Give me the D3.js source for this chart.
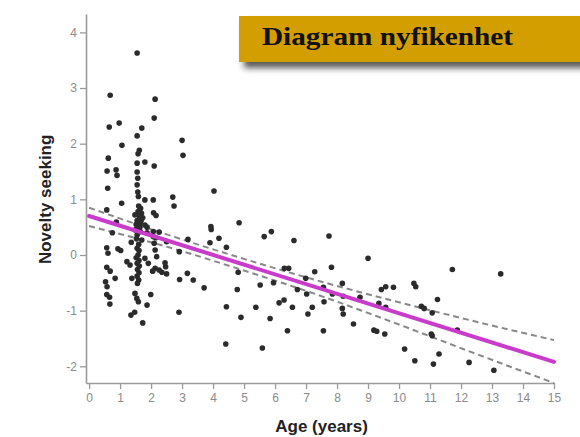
<!DOCTYPE html>
<html>
<head>
<meta charset="utf-8">
<script src="https://cdn.jsdelivr.net/npm/d3@7"></script>
<style>
  html, body { margin: 0; padding: 0; background: #fff; }
  svg { display: block; }
</style>
</head>
<body>
<div id="viz"></div>
<script>
// age (years) and novelty seeking score, one entry per child
const ages = [
  0.68, 0.97, 0.65, 1.06, 0.62, 0.58, 0.87, 0.90, 0.60, 1.05, 0.57, 0.88, 0.75, 0.57, 0.61, 0.93, 1.02, 0.57, 0.68, 0.84,
  0.53, 0.58, 0.57, 0.66, 0.67, 1.22, 1.32, 1.36, 1.38, 1.35, 1.47,
  1.55, 1.70, 1.55, 1.62, 1.58, 1.55, 1.55, 1.57, 1.55, 1.57, 1.59, 1.60, 1.66, 1.58, 1.69, 1.62, 1.73, 1.48, 1.55, 1.65,
  1.55, 1.48, 1.65, 1.55, 1.53, 1.70, 1.60, 1.55, 1.61, 1.58, 1.52, 1.61, 1.55, 1.62, 1.56, 1.61, 1.55, 1.60, 1.56, 1.48,
  1.54, 1.59, 1.73, 1.63, 1.68, 1.52, 1.64,
  1.80, 1.80, 1.80, 1.87, 1.87, 1.80, 1.91, 1.99, 1.87, 2.13, 2.10, 2.10, 2.07, 2.08, 2.16, 2.07, 2.07, 2.26, 2.15, 2.10,
  2.13, 2.18, 2.13, 2.05, 2.26, 2.35, 2.45, 2.50, 2.47, 2.50,
  2.70, 2.74, 3.00, 3.03, 2.91, 2.92, 2.90, 3.19, 3.17, 3.36,
  3.71, 3.93, 3.94, 3.90, 4.03, 4.19, 4.43, 4.84, 4.81, 4.78, 4.43, 4.90, 4.41,
  5.59, 5.38, 5.52, 5.84, 5.65, 5.88, 5.95, 6.13, 6.29, 6.30, 6.44, 6.61, 6.72, 6.56, 6.40, 6.99, 7.02, 7.06,
  7.20, 7.28, 7.56, 7.58, 7.56, 7.74, 7.82, 7.85, 8.17, 8.20, 8.17, 8.20, 8.53, 8.74, 9.00,
  9.19, 9.28, 9.35, 9.43, 9.57, 9.82, 9.57, 9.54, 10.18, 10.48, 10.54, 10.51, 10.72, 10.81, 11.07, 11.04, 11.07, 11.11,
  11.24, 11.29, 11.72, 11.88, 12.26, 13.06, 13.28
];
const novelty = [
  2.87, 2.37, 2.30, 1.97, 1.74, 1.51, 1.53, 1.43, 1.20, 0.93, 0.81, 0.59, 0.40, 0.13, 0.03, 0.11, 0.08, -0.22, -0.29, -0.42,
  -0.48, -0.57, -0.71, -0.76, -0.88, -0.12, -0.18, 0.23, -0.42, -1.08, -1.03,
  3.63, 2.28, 2.14, 1.88, 1.82, 1.65, 1.49, 1.38, 1.26, 1.13, 1.05, 0.88, 0.84, 0.78, 0.75, 0.70, 0.67, 0.72, 0.62, 0.58,
  0.48, 0.45, 0.42, 0.36, 0.29, 0.27, 0.19, 0.12, 0.08, 0.00, -0.05, -0.10, -0.15, -0.20, -0.26, -0.32, -0.38, -0.45, -0.51, -0.69,
  -0.78, -0.84, -1.22, 0.80, 0.62, 0.55, 0.50,
  1.67, 0.99, 0.54, 0.50, 0.40, -0.06, -0.15, -0.71, -0.90, 2.80, 2.46, 1.60, 0.99, 0.76, 0.71, 0.42, 0.33, 0.41, 0.31, 0.21,
  0.09, -0.03, -0.24, -0.29, -0.27, -0.31, -0.14, -0.34, -0.21, 0.24,
  1.04, 0.88, 2.06, 1.79, 0.06, -0.44, -1.03, 0.28, -0.33, -0.45,
  -0.59, 0.51, 0.46, 0.22, 1.15, 0.30, 0.14, 0.58, -0.31, -0.62, -0.93, -1.12, -1.60,
  -1.67, -0.94, -0.54, -1.14, 0.33, 0.42, -0.50, -0.86, -0.81, -0.24, -0.24, 0.26, -0.62, -0.94, -1.36, -0.42, -0.70, -1.06,
  -0.94, -0.30, -0.58, -0.84, -1.36, 0.34, -0.22, -0.70, -0.51, -0.74, -0.96, -1.06, -1.24, -0.76, -0.06,
  -1.35, -1.37, -0.87, -0.62, -0.57, -0.58, -0.94, -1.42, -1.69, -0.51, -0.57, -1.90, -0.92, -0.96, -1.04, -1.42, -1.45, -1.96,
  -0.80, -1.78, -0.26, -1.35, -1.93, -2.07, -0.34
];

// fitted line and 95% band
const fitAges = [0, 15];
const fitValues = [0.70, -1.92];
const bandAges = [0, 2.5, 5, 7.5, 10, 12.5, 15];
const bandUpper = [0.85, 0.37, -0.07, -0.48, -0.85, -1.20, -1.53];
const bandLower = [0.52, 0.15, -0.28, -0.74, -1.25, -1.78, -2.30];

const xTicks = [0, 1, 2, 3, 4, 5, 6, 7, 8, 9, 10, 11, 12, 13, 14, 15];
const yTicks = [-2, -1, 0, 1, 2, 3, 4];

const chartTitle = "Diagram nyfikenhet";
const xLabel = "Age (years)";
const yLabel = "Novelty seeking";

const width = 580;
const height = 437;

const svg = d3.select("#viz")
  .append("svg")
  .attr("width", width)
  .attr("height", height);

const x = d3.scaleLinear().domain([-0.1, 15]).range([86, 554]);
const y = d3.scaleLinear().domain([-2.3, 4.33]).range([383, 14]);

const axisColor = "#9a9a9a";
const tickColor = "#8a8a8a";

// axes
const xAxis = svg.append("g")
  .attr("transform", `translate(0,${y(-2.3)})`)
  .call(d3.axisBottom(x).tickValues(xTicks).tickSize(6).tickPadding(4).tickSizeOuter(0));

const yAxis = svg.append("g")
  .attr("transform", `translate(${x(-0.1)},0)`)
  .call(d3.axisLeft(y).tickValues(yTicks).tickSize(6).tickPadding(3).tickSizeOuter(0)
    .tickFormat(d => d < 0 ? "-" + Math.abs(d) : d));

[xAxis, yAxis].forEach(g => {
  g.select(".domain").attr("stroke", axisColor).attr("stroke-width", 1.6);
  g.selectAll(".tick line").attr("stroke", axisColor).attr("stroke-width", 1.3);
  g.selectAll(".tick text")
    .attr("fill", tickColor)
    .attr("font-family", "Liberation Sans, Arial, sans-serif")
    .attr("font-size", 12);
});

// confidence band (dashed)
const bandLine = d3.line()
  .x((d, i) => x(bandAges[i]))
  .y(d => y(d))
  .curve(d3.curveMonotoneX);

[bandUpper, bandLower].forEach(vals => {
  svg.append("path")
    .attr("d", bandLine(vals))
    .attr("fill", "none")
    .attr("stroke", "#888")
    .attr("stroke-width", 2)
    .attr("stroke-dasharray", "6,4");
});

// data points
svg.append("g")
  .selectAll("circle")
  .data(ages.map((a, i) => ({ age: a, value: novelty[i] })))
  .join("circle")
  .attr("cx", d => x(d.age))
  .attr("cy", d => y(d.value))
  .attr("r", 2.8)
  .attr("fill", "#2b2b2b");

// regression line
svg.append("path")
  .attr("d", d3.line().x((d, i) => x(fitAges[i])).y(d => y(d))(fitValues))
  .attr("fill", "none")
  .attr("stroke", "#c93ccb")
  .attr("stroke-width", 4)
  .attr("stroke-linecap", "round");

// axis labels
svg.append("text")
  .attr("x", (x(0) + x(15)) / 2)
  .attr("y", 432)
  .attr("text-anchor", "middle")
  .attr("font-family", "Liberation Sans, Arial, sans-serif")
  .attr("font-weight", "bold")
  .attr("font-size", 17)
  .attr("fill", "#222")
  .text(xLabel);

svg.append("text")
  .attr("transform", `translate(51,${y(1)}) rotate(-90)`)
  .attr("text-anchor", "middle")
  .attr("font-family", "Liberation Sans, Arial, sans-serif")
  .attr("font-weight", "bold")
  .attr("font-size", 17)
  .attr("fill", "#222")
  .text(yLabel);

// title box with shadow
const defs = svg.append("defs");
const shadow = defs.append("filter")
  .attr("id", "shadow")
  .attr("x", "-10%").attr("y", "-20%")
  .attr("width", "130%").attr("height", "160%");
shadow.append("feDropShadow")
  .attr("dx", 5).attr("dy", 6)
  .attr("stdDeviation", 3)
  .attr("flood-color", "#222")
  .attr("flood-opacity", 0.75);

svg.append("rect")
  .attr("x", 239)
  .attr("y", 16)
  .attr("width", 360)
  .attr("height", 46)
  .attr("fill", "#d29e00")
  .attr("filter", "url(#shadow)");

svg.append("text")
  .attr("x", 262)
  .attr("y", 45)
  .attr("font-family", "Liberation Serif, Times New Roman, serif")
  .attr("font-weight", "bold")
  .attr("font-size", 26)
  .attr("textLength", 251)
  .attr("lengthAdjust", "spacingAndGlyphs")
  .attr("fill", "#111")
  .text(chartTitle);
</script>
</body>
</html>
